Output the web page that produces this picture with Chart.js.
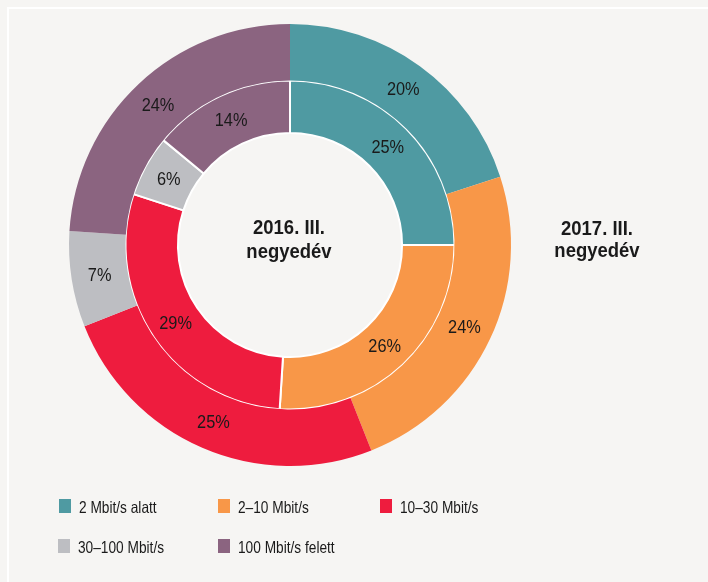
<!DOCTYPE html>
<html>
<head>
<meta charset="utf-8">
<script src="https://cdn.jsdelivr.net/npm/chart.js@4"></script>
<style>
  html, body { margin: 0; padding: 0; background: #f6f5f3; }
  #wrap { position: relative; width: 708px; height: 582px; overflow: hidden; }
  #frame { position: absolute; left: 7px; top: 7px; right: -4px; bottom: -4px;
           border-top: 2px solid #fff; border-left: 2px solid #fff; }
  #chart { position: absolute; left: 0; top: 0; }
</style>
</head>
<body>
<div id="wrap">
  <div id="frame"></div>
  <canvas id="chart" width="708" height="582"></canvas>
</div>
<script>
// Kategóriák és értékek
const kategoriak = ['2 Mbit/s alatt', '2–10 Mbit/s', '10–30 Mbit/s', '30–100 Mbit/s', '100 Mbit/s felett'];
const szinek = ['#4f9aa2', '#f89748', '#ee1c3e', '#bdbec2', '#8b6480'];
const ertekek2017 = [20, 24, 25, 7, 24];   // külső gyűrű
const ertekek2016 = [25, 26, 29, 6, 14];   // belső gyűrű
const cimke2016 = ['2016. III.', 'negyedév'];
const cimke2017 = ['2017. III.', 'negyedév'];

const betu = '"Liberation Sans", Arial, sans-serif';

// keskenyített szöveg (Arial Narrow hiányában)
function keskenySzoveg(ctx, txt, x, y, sx) {
	ctx.save();
	ctx.translate(x, y);
	ctx.scale(sx, 1);
	ctx.fillText(txt, 0, 0);
	ctx.restore();
}

// Százalékok, feliratok, jelmagyarázat
const feliratPlugin = {
	id: 'feliratok',
	afterDatasetsDraw(chart) {
		const ctx = chart.ctx;
		ctx.save();
		ctx.fillStyle = '#1a1a1a';
		ctx.font = '19px ' + betu;
		ctx.textAlign = 'center';
		ctx.textBaseline = 'middle';
		chart.data.datasets.forEach((ds, i) => {
			chart.getDatasetMeta(i).data.forEach((arc, j) => {
				const p = arc.tooltipPosition();
				keskenySzoveg(ctx, ds.data[j] + '%', p.x, p.y + 1, 0.86);
			});
		});

		// középső és jobb oldali feliratok
		ctx.font = 'bold 21px ' + betu;
		ctx.textBaseline = 'alphabetic';
		const arc0 = chart.getDatasetMeta(0).data[0];
		const cx = arc0.x, cy = arc0.y;
		keskenySzoveg(ctx, cimke2016[0], cx - 1, cy - 11, 0.88);
		keskenySzoveg(ctx, cimke2016[1], cx - 1, cy + 13, 0.88);
		keskenySzoveg(ctx, cimke2017[0], 597, cy - 10, 0.88);
		keskenySzoveg(ctx, cimke2017[1], 597, cy + 12, 0.88);

		// jelmagyarázat
		const legendPos = [[59, 513], [218, 513], [380, 513], [58, 553], [218, 553]];
		ctx.font = '16.5px ' + betu;
		ctx.textAlign = 'left';
		kategoriak.forEach((k, i) => {
			const [lx, ly] = legendPos[i];
			ctx.fillStyle = szinek[i];
			ctx.fillRect(lx, ly - 14, 12, 14);
			ctx.fillStyle = '#1a1a1a';
			keskenySzoveg(ctx, k, lx + 20, ly, 0.83);
		});
		ctx.restore();
	}
};

new Chart(document.getElementById('chart'), {
	type: 'doughnut',
	data: {
		labels: kategoriak,
		datasets: [{
			label: '2017. III. negyedév',
			data: ertekek2017,
			backgroundColor: szinek,
			borderWidth: 0,
			weight: 56
		}, {
			label: '2016. III. negyedév',
			data: ertekek2016,
			backgroundColor: szinek,
			borderColor: '#ffffff',
			borderWidth: 2,
			weight: 52
		}]
	},
	options: {
		responsive: false,
		animation: false,
		cutout: '50.7%',
		layout: { padding: { left: 69, right: 197, top: 24, bottom: 116 } },
		plugins: {
			legend: { display: false },
			tooltip: { enabled: false }
		}
	},
	plugins: [feliratPlugin]
});
</script>
</body>
</html>
